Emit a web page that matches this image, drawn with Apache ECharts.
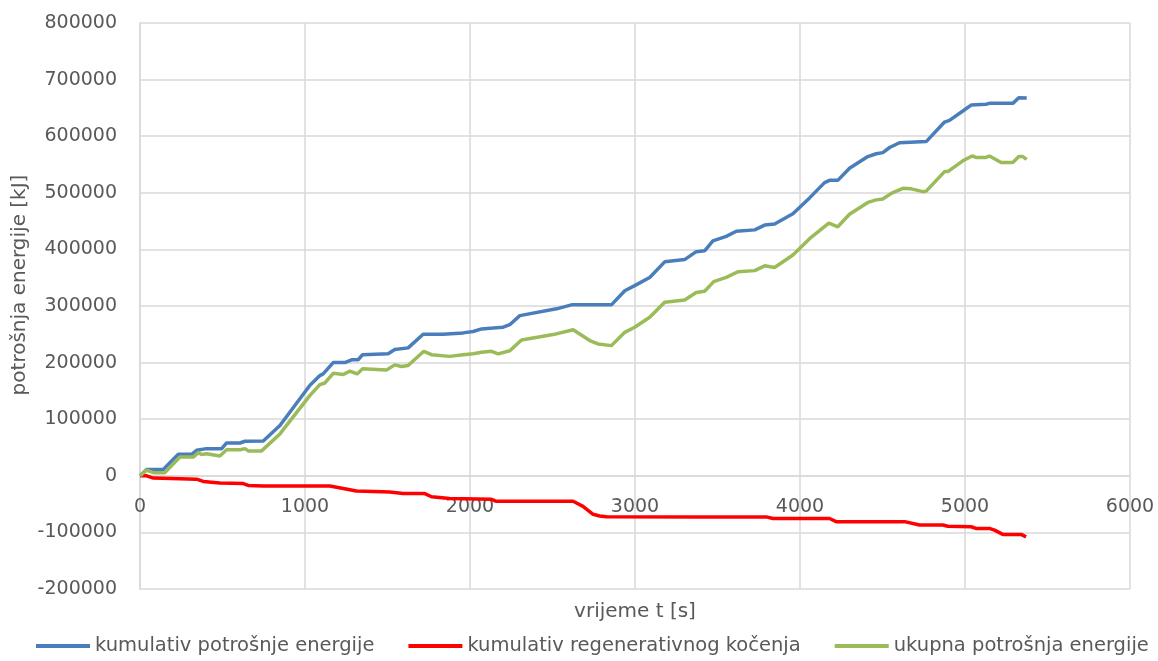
<!DOCTYPE html>
<html>
<head>
<meta charset="utf-8">
<script src="https://cdn.jsdelivr.net/npm/echarts@6/dist/echarts.min.js"></script>
<style>html,body{margin:0;padding:0;background:#fff}#c{width:1158px;height:661px}</style>
</head>
<body>
<div id="c"></div>
<script>
const seriesNames = ['kumulativ potrošnje energije', 'kumulativ regenerativnog kočenja', 'ukupna potrošnja energije'];
const xTicks = [0, 1000, 2000, 3000, 4000, 5000, 6000];
const yTicks = [-200000, -100000, 0, 100000, 200000, 300000, 400000, 500000, 600000, 700000, 800000];

const tBlue = [0,40,141,232,313,343,404,495,525,606,636,747,848,1030,1090,1110,1171,1242,1282,1322,1349,1504,1544,1625,1716,1837,1958,2019,2070,2140,2201,2241,2302,2524,2615,2857,2938,2998,3089,3180,3301,3371,3422,3472,3553,3614,3725,3786,3846,3957,4058,4149,4179,4229,4300,4411,4462,4502,4543,4603,4765,4876,4906,4987,5037,5128,5148,5290,5326,5374];
const vBlue = [0,11000,11000,38000,38000,45000,48000,48000,58000,58000,61000,61500,89000,160000,177000,180000,200000,200000,205000,205000,214000,215500,223000,226000,250000,250000,252500,255000,259500,261000,262500,267000,283000,295000,302000,302000,327000,336000,350500,378000,382000,396000,397500,415000,423000,432000,434500,443000,445000,463000,491000,518000,522000,522000,543500,564000,569000,571000,580000,588500,590500,625000,628000,644500,655000,656500,658000,658000,668000,667500];

const tRed = [0,40,81,242,343,383,484,626,656,747,1151,1232,1312,1514,1595,1726,1767,1877,2130,2160,2625,2685,2746,2786,2827,3392,3796,3836,4179,4219,4635,4724,4866,4896,5037,5067,5148,5179,5229,5340,5370];
const vRed = [0,0,-4000,-5000,-6000,-10000,-12700,-13800,-17000,-18000,-18000,-22600,-26800,-28500,-31400,-31400,-37000,-40000,-41500,-45000,-45000,-54000,-68000,-71000,-72500,-72600,-72600,-75500,-75500,-81000,-81000,-87000,-87000,-89000,-90000,-93000,-93000,-96000,-103500,-103500,-108000];

const tGreen = [0,40,81,151,242,323,353,373,404,484,525,606,636,656,737,848,1030,1090,1120,1171,1232,1272,1316,1349,1494,1544,1585,1625,1720,1767,1877,1958,2019,2070,2130,2171,2241,2312,2504,2625,2726,2776,2857,2938,2998,3089,3180,3301,3371,3422,3477,3553,3624,3725,3786,3846,3957,4058,4175,4229,4300,4411,4462,4502,4553,4624,4674,4745,4765,4876,4896,4987,5043,5067,5128,5148,5219,5290,5326,5350,5374];
const vGreen = [0,10000,5600,5600,33000,33000,41000,37500,39000,35000,46000,46000,48000,44000,44000,74000,142000,161000,164000,181000,179000,185000,180000,189000,187000,196000,193000,195000,220000,214000,211000,213700,215500,218300,220000,215500,221000,240000,249500,258000,239000,233000,230000,253500,262500,280000,306500,310500,324000,326000,343000,350500,360500,362500,371000,368000,390000,419000,446500,440000,462000,483000,487500,489000,499000,508000,507000,502000,503000,537500,537500,556500,565000,562500,562500,565000,553500,553500,564000,564000,559000];

const xTitle = 'vrijeme t [s]';
const yTitle = 'potrošnja energije [kJ]';

const zip = (t, v) => t.map((x, i) => [x, v[i]]);
const FONT = 'DejaVu Sans';
const TXT = '#595959';
const GRID_TOP = 23, GRID_BOTTOM = 72, H = 661;
const yMin = yTicks[0], yMax = yTicks[yTicks.length - 1];
// shift x axis up so it sits on the zero line (Excel style)
const plotH = H - GRID_TOP - GRID_BOTTOM;
const zeroOffset = plotH * (0 - yMin) / (yMax - yMin);

const chart = echarts.init(document.getElementById('c'));
chart.setOption({
  animation: false,
  backgroundColor: '#fff',
  grid: { left: 140, right: 28, top: GRID_TOP, bottom: GRID_BOTTOM, containLabel: false },
  legend: {
    top: 636, left: 36, width: 1122, padding: 0,
    itemWidth: 54, itemHeight: 4, itemGap: 34,
    icon: 'rect',
    textStyle: { fontFamily: FONT, fontSize: 19.5, color: TXT },
    data: seriesNames
  },
  graphic: [
    { type: 'text', x: 20, y: 285, rotation: Math.PI / 2,
      style: { text: yTitle, font: '20px "DejaVu Sans"', fill: TXT, textAlign: 'center', textVerticalAlign: 'middle' } },
    { type: 'text', x: 635, y: 612,
      style: { text: xTitle, font: '20px "DejaVu Sans"', fill: TXT, textAlign: 'center', textVerticalAlign: 'middle' } }
  ],
  xAxis: {
    type: 'value', min: xTicks[0], max: xTicks[xTicks.length - 1], interval: 1000,
    axisLine: { onZero: false, lineStyle: { color: '#d9d9d9', width: 1.5 } },
    offset: -zeroOffset,
    axisTick: { show: false },
    axisLabel: { margin: 22, fontFamily: FONT, fontSize: 19, color: TXT, formatter: v => String(v) },
    splitLine: { show: true, lineStyle: { color: '#d9d9d9', width: 1.5 } }
  },
  yAxis: {
    type: 'value', min: yMin, max: yMax, interval: 100000,
    axisLine: { show: true, lineStyle: { color: '#d9d9d9', width: 1.5 } },
    axisTick: { show: false },
    axisLabel: { margin: 23, fontFamily: FONT, fontSize: 19, color: TXT, formatter: v => String(v) },
    splitLine: { show: true, lineStyle: { color: '#d9d9d9', width: 1.5 } }
  },
  series: [
    { name: seriesNames[0], type: 'line', data: zip(tBlue, vBlue), showSymbol: false, symbol: 'none',
      lineStyle: { color: '#4a7ebb', width: 3.5 }, itemStyle: { color: '#4a7ebb' } },
    { name: seriesNames[1], type: 'line', data: zip(tRed, vRed), showSymbol: false, symbol: 'none',
      lineStyle: { color: '#ff0000', width: 3.5 }, itemStyle: { color: '#ff0000' } },
    { name: seriesNames[2], type: 'line', data: zip(tGreen, vGreen), showSymbol: false, symbol: 'none',
      lineStyle: { color: '#9bbb59', width: 3.5 }, itemStyle: { color: '#9bbb59' } }
  ]
});
</script>
</body>
</html>
